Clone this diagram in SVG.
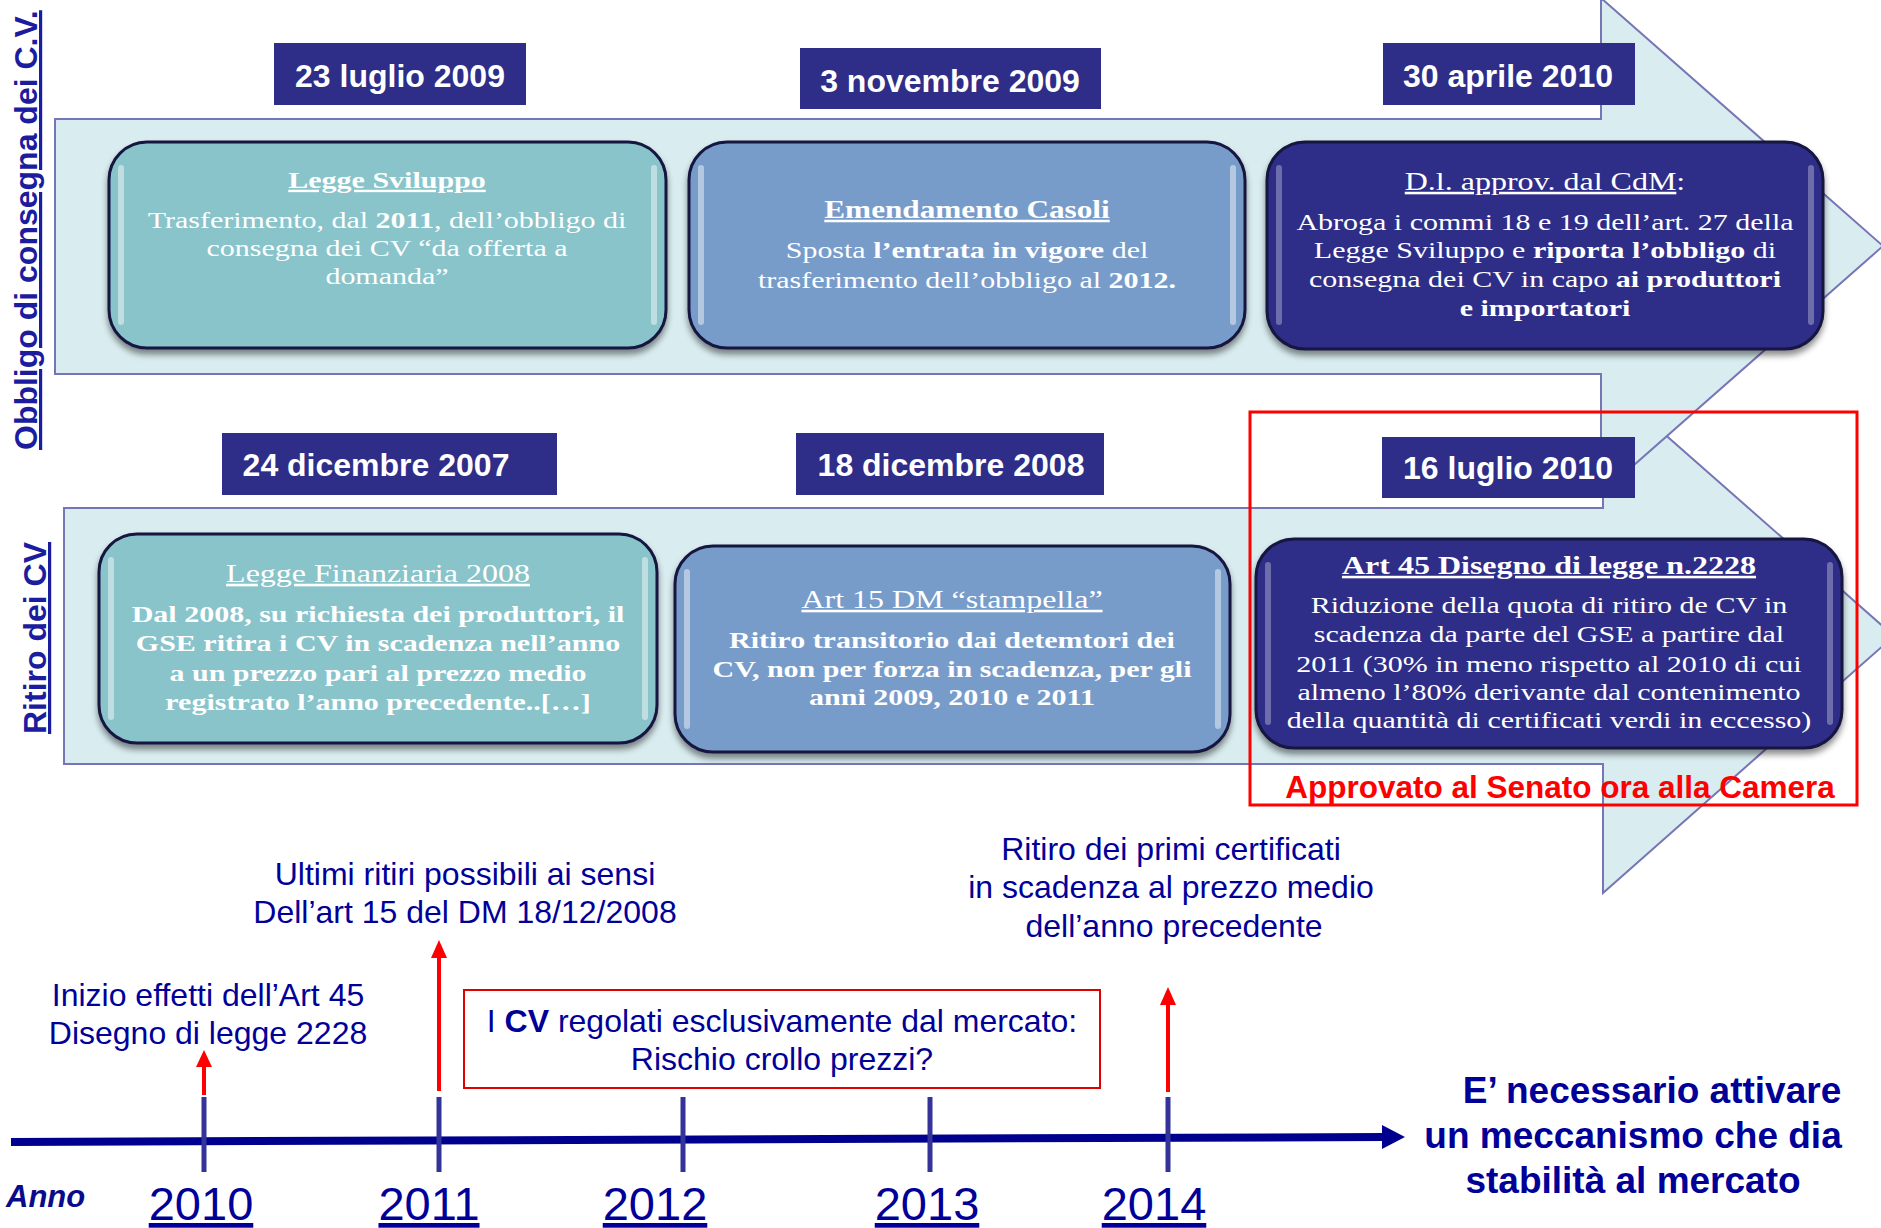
<svg xmlns="http://www.w3.org/2000/svg" width="1881" height="1228" viewBox="0 0 1881 1228">
<style>
.band{fill:#D9ECEF;stroke:#7676B6;stroke-width:2;stroke-linejoin:miter}
.box{stroke:#15153f;stroke-width:3}
.teal{fill:#89C4CB}
.blue{fill:#789CCA}
.navy{fill:#2E2D88}
.hl{fill:#ffffff;opacity:0.45}
.date{fill:#2E2D88}
.sf{font-family:"Liberation Serif","Times New Roman",serif;fill:#ffffff;text-anchor:middle}
.ttl{font-size:25.6px;text-decoration:underline}
.bd{font-size:24px}
.b{font-weight:bold}
.ss{font-family:"Liberation Sans",Arial,sans-serif}
.dt{font-size:32px;font-weight:bold;fill:#ffffff;text-anchor:middle}
.tl{font-size:32px;fill:#000099;text-anchor:middle}
.yr{font-size:47px;fill:#000099;text-anchor:middle;text-decoration:underline}
.vl{font-size:32px;font-weight:bold;fill:#1C1C9E;text-decoration:underline}
.tick{stroke:#333399;stroke-width:5}
.red{stroke:#FF0000;stroke-width:4}
.redh{fill:#FF0000}
</style>
<defs>
<filter id="sh" x="-5%" y="-10%" width="110%" height="130%">
<feGaussianBlur in="SourceAlpha" stdDeviation="3"/>
<feOffset dy="5" result="b"/>
<feFlood flood-color="#000000" flood-opacity="0.45"/>
<feComposite in2="b" operator="in"/>
<feMerge><feMergeNode/><feMergeNode in="SourceGraphic"/></feMerge>
</filter>
</defs>
<rect width="1881" height="1228" fill="#ffffff"/>

<g id="bands">
<polygon class="band" points="64,508 1603,508 1603,380 1894,636 1603,893 1603,764 64,764"/>
<polygon class="band" points="55,119 1601,119 1601,-2 1883,246 1601,494 1601,374 55,374"/>
</g>

<g id="labels">
<text class="ss vl" x="37" y="450" transform="rotate(-90 37 450)">Obbligo di consegna dei C.V.</text>
<text class="ss vl" x="46" y="734" transform="rotate(-90 46 734)">Ritiro dei CV</text>
</g>

<g id="node-legge-sviluppo">
<rect class="box teal" x="109" y="142" width="557" height="206" rx="38" filter="url(#sh)"/>
<rect class="hl" x="118" y="165" width="6" height="160" rx="3"/>
<rect class="hl" x="651" y="165" width="6" height="160" rx="3"/>
<text class="sf ttl b" transform="translate(387 0) scale(1.25 1)" x="0" y="188" style="font-size:24px">Legge Sviluppo</text>
<text class="sf bd" transform="translate(387 0) scale(1.25 1)" x="0" y="228">Trasferimento, dal <tspan class="b">2011</tspan>, dell’obbligo di</text>
<text class="sf bd" transform="translate(387 0) scale(1.25 1)" x="0" y="256">consegna dei CV “da offerta a</text>
<text class="sf bd" transform="translate(387 0) scale(1.25 1)" x="0" y="284">domanda”</text>
</g>

<g id="node-emendamento">
<rect class="box blue" x="689" y="142" width="556" height="206" rx="38" filter="url(#sh)"/>
<rect class="hl" x="698" y="165" width="6" height="160" rx="3"/>
<rect class="hl" x="1230" y="165" width="6" height="160" rx="3"/>
<text class="sf ttl b" transform="translate(967 0) scale(1.25 1)" x="0" y="218" style="font-size:25px">Emendamento Casoli</text>
<text class="sf bd" transform="translate(967 0) scale(1.25 1)" x="0" y="258">Sposta <tspan class="b">l’entrata in vigore</tspan> del</text>
<text class="sf bd" transform="translate(967 0) scale(1.25 1)" x="0" y="288">trasferimento dell’obbligo al <tspan class="b">2012.</tspan></text>
</g>

<g id="node-dl">
<rect class="box navy" x="1267" y="142" width="556" height="207" rx="38" filter="url(#sh)"/>
<rect class="hl" x="1276" y="165" width="6" height="160" rx="3" style="opacity:0.3"/>
<rect class="hl" x="1808" y="165" width="6" height="160" rx="3" style="opacity:0.3"/>
<text class="sf" transform="translate(1545 0) scale(1.25 1)" x="0" y="190" style="font-size:25.6px"><tspan style="text-decoration:underline">D.l. approv. dal CdM</tspan>:</text>
<text class="sf bd" transform="translate(1545 0) scale(1.25 1)" x="0" y="230">Abroga i commi 18 e 19 dell’art. 27 della</text>
<text class="sf bd" transform="translate(1545 0) scale(1.25 1)" x="0" y="258">Legge Sviluppo e <tspan class="b">riporta l’obbligo</tspan> di</text>
<text class="sf bd" transform="translate(1545 0) scale(1.25 1)" x="0" y="287">consegna dei CV in capo <tspan class="b">ai produttori</tspan></text>
<text class="sf bd b" transform="translate(1545 0) scale(1.25 1)" x="0" y="316">e importatori</text>
</g>

<g id="node-finanziaria">
<rect class="box teal" x="99" y="534" width="558" height="209" rx="38" filter="url(#sh)"/>
<rect class="hl" x="108" y="557" width="6" height="163" rx="3"/>
<rect class="hl" x="642" y="557" width="6" height="163" rx="3"/>
<text class="sf ttl" transform="translate(378 0) scale(1.25 1)" x="0" y="582">Legge Finanziaria 2008</text>
<text class="sf bd b" transform="translate(378 0) scale(1.25 1)" x="0" y="622">Dal 2008, su richiesta dei produttori, il</text>
<text class="sf bd b" transform="translate(378 0) scale(1.25 1)" x="0" y="651">GSE ritira i CV in scadenza nell’anno</text>
<text class="sf bd b" transform="translate(378 0) scale(1.25 1)" x="0" y="681">a un prezzo pari al prezzo medio</text>
<text class="sf bd b" transform="translate(378 0) scale(1.25 1)" x="0" y="710">registrato l’anno precedente..[…]</text>
</g>

<g id="node-art15">
<rect class="box blue" x="675" y="546" width="555" height="206" rx="38" filter="url(#sh)"/>
<rect class="hl" x="684" y="569" width="6" height="160" rx="3"/>
<rect class="hl" x="1215" y="569" width="6" height="160" rx="3"/>
<text class="sf ttl" transform="translate(952 0) scale(1.25 1)" x="0" y="608">Art 15 DM “stampella”</text>
<text class="sf bd b" transform="translate(952 0) scale(1.25 1)" x="0" y="648">Ritiro transitorio dai detemtori dei</text>
<text class="sf bd b" transform="translate(952 0) scale(1.25 1)" x="0" y="677">CV, non per forza in scadenza, per gli</text>
<text class="sf bd b" transform="translate(952 0) scale(1.25 1)" x="0" y="705">anni 2009, 2010 e 2011</text>
</g>

<g id="node-art45">
<rect class="box navy" x="1256" y="539" width="586" height="209" rx="38" filter="url(#sh)"/>
<rect class="hl" x="1265" y="562" width="6" height="163" rx="3" style="opacity:0.3"/>
<rect class="hl" x="1827" y="562" width="6" height="163" rx="3" style="opacity:0.3"/>
<text class="sf ttl b" transform="translate(1549 0) scale(1.25 1)" x="0" y="574">Art 45 Disegno di legge n.2228</text>
<text class="sf bd" transform="translate(1549 0) scale(1.25 1)" x="0" y="613">Riduzione della quota di ritiro de CV in</text>
<text class="sf bd" transform="translate(1549 0) scale(1.25 1)" x="0" y="642">scadenza da parte del GSE a partire dal</text>
<text class="sf bd" transform="translate(1549 0) scale(1.25 1)" x="0" y="672">2011 (30% in meno rispetto al 2010 di cui</text>
<text class="sf bd" transform="translate(1549 0) scale(1.25 1)" x="0" y="700">almeno l’80% derivante dal contenimento</text>
<text class="sf bd" transform="translate(1549 0) scale(1.25 1)" x="0" y="728">della quantità di certificati  verdi in eccesso)</text>
</g>

<g id="date-23-luglio-2009">
<rect class="date" x="274" y="43" width="252" height="62"/>
<text class="ss dt" x="400" y="87">23 luglio 2009</text>
</g>
<g id="date-3-novembre-2009">
<rect class="date" x="800" y="48" width="301" height="61"/>
<text class="ss dt" x="950" y="92">3 novembre 2009</text>
</g>
<g id="date-30-aprile-2010">
<rect class="date" x="1383" y="43" width="252" height="62"/>
<text class="ss dt" x="1508" y="87">30 aprile 2010</text>
</g>
<g id="date-24-dicembre-2007">
<rect class="date" x="222" y="433" width="335" height="62"/>
<text class="ss dt" x="376" y="476">24 dicembre 2007</text>
</g>
<g id="date-18-dicembre-2008">
<rect class="date" x="796" y="433" width="308" height="62"/>
<text class="ss dt" x="951" y="476">18 dicembre 2008</text>
</g>
<g id="date-16-luglio-2010">
<rect class="date" x="1382" y="437" width="253" height="61"/>
<text class="ss dt" x="1508" y="479">16 luglio 2010</text>
</g>

<g id="approvato">
<rect x="1250" y="412" width="607" height="393" fill="none" stroke="#FF0000" stroke-width="3"/>
<text class="ss" x="1560" y="798" style="font-size:31.5px;font-weight:bold;fill:#FF0000;text-anchor:middle">Approvato al Senato ora alla Camera</text>
</g>

<g id="connectors">
<line x1="11" y1="1142" x2="1385" y2="1137" stroke="#00008E" stroke-width="8"/>
<polygon points="1382,1125 1405,1137 1382,1149" fill="#00008E"/>
<line class="tick" x1="204" y1="1097" x2="204" y2="1172"/>
<line class="tick" x1="439" y1="1097" x2="439" y2="1172"/>
<line class="tick" x1="683" y1="1097" x2="683" y2="1172"/>
<line class="tick" x1="930" y1="1097" x2="930" y2="1172"/>
<line class="tick" x1="1168" y1="1097" x2="1168" y2="1172"/>
<line class="red" x1="204" y1="1095" x2="204" y2="1064"/>
<polygon class="redh" points="196,1067 204,1050 212,1067"/>
<line class="red" x1="439" y1="1091" x2="439" y2="955"/>
<polygon class="redh" points="431,958 439,940 447,958"/>
<line class="red" x1="1168" y1="1092" x2="1168" y2="1002"/>
<polygon class="redh" points="1160,1005 1168,987 1176,1005"/>
</g>

<g id="timeline-texts">
<text class="ss tl" x="208" y="1006">Inizio effetti dell’Art 45</text>
<text class="ss tl" x="208" y="1044">Disegno di legge 2228</text>
<text class="ss tl" x="465" y="885">Ultimi ritiri possibili ai sensi</text>
<text class="ss tl" x="465" y="923">Dell’art 15 del DM 18/12/2008</text>
<text class="ss tl" x="1171" y="860">Ritiro dei primi certificati</text>
<text class="ss tl" x="1171" y="898">in scadenza al prezzo medio</text>
<text class="ss tl" x="1174" y="937">dell’anno precedente</text>
</g>

<g id="node-mercato">
<rect x="464" y="990" width="636" height="98" fill="#ffffff" stroke="#E00000" stroke-width="2"/>
<text class="ss tl" x="782" y="1032">I <tspan style="font-weight:bold">CV</tspan> regolati esclusivamente dal mercato:</text>
<text class="ss tl" x="782" y="1070">Rischio crollo prezzi?</text>
</g>

<g id="conclusione">
<text class="ss" x="1652" y="1103" style="font-size:37px;font-weight:bold;fill:#000099;text-anchor:middle">E’ necessario attivare</text>
<text class="ss" x="1633" y="1148" style="font-size:37px;font-weight:bold;fill:#000099;text-anchor:middle">un meccanismo che dia</text>
<text class="ss" x="1633" y="1193" style="font-size:37px;font-weight:bold;fill:#000099;text-anchor:middle">stabilità al mercato</text>
</g>

<g id="years">
<text class="ss" x="6" y="1207" style="font-size:31px;font-weight:bold;font-style:italic;fill:#0A0A8C">Anno</text>
<text class="ss yr" x="201" y="1220">2010</text>
<text class="ss yr" x="429" y="1220">2011</text>
<text class="ss yr" x="655" y="1220">2012</text>
<text class="ss yr" x="927" y="1220">2013</text>
<text class="ss yr" x="1154" y="1220">2014</text>
</g>
</svg>
